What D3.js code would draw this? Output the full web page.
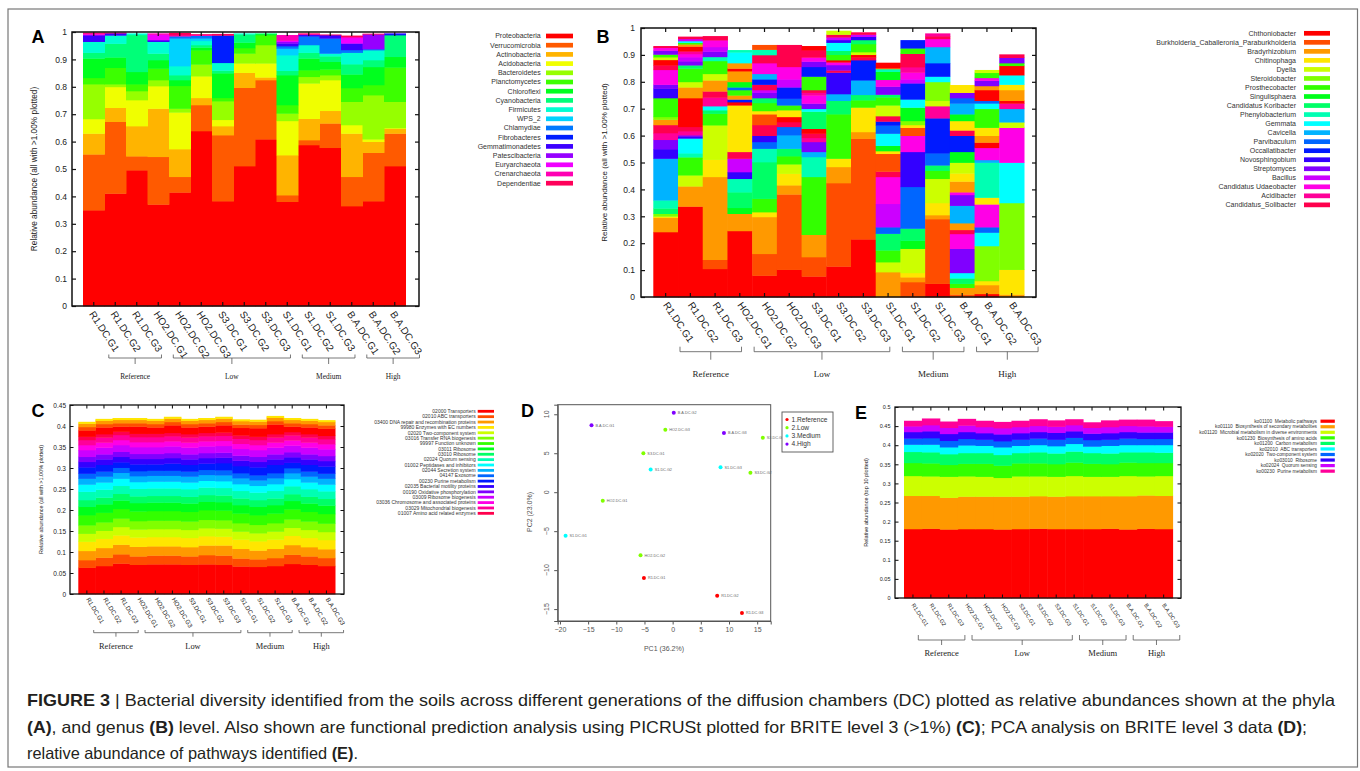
<!DOCTYPE html>
<html>
<head>
<meta charset="utf-8">
<script src="https://cdn.jsdelivr.net/npm/d3@7/dist/d3.min.js"></script>
<style>
  body { margin: 0; background: #fff; }
  svg { display: block; font-family: "Liberation Sans", Arial, sans-serif; }
</style>
</head>
<body>
<svg id="fig" width="1360" height="771"></svg>
<script>
// ---------- data ----------
const samples = ["R1.DC.G1","R1.DC.G2","R1.DC.G3","HO2.DC.G1","HO2.DC.G2","HO2.DC.G3",
  "S3.DC.G1","S3.DC.G2","S3.DC.G3","S1.DC.G1","S1.DC.G2","S1.DC.G3",
  "B.A.DC.G1","B.A.DC.G2","B.A.DC.G3"];

const groups = [
  { name: "Reference", first: 0, last: 2 },
  { name: "Low", first: 3, last: 8 },
  { name: "Medium", first: 9, last: 11 },
  { name: "High", first: 12, last: 14 }
];

const abundanceTicks = [0, 0.1, 0.2, 0.3, 0.4, 0.5, 0.6, 0.7, 0.8, 0.9, 1];
const briteTicks = [0, 0.05, 0.1, 0.15, 0.2, 0.25, 0.3, 0.35, 0.4, 0.45];
const pathwayTicks = [0, 0.05, 0.1, 0.15, 0.2, 0.25, 0.3, 0.35, 0.4, 0.45, 0.5];

// (A) phyla
const phyla = ["Proteobacteria","Verrucomicrobia","Actinobacteria","Acidobacteria","Bacteroidetes",
  "Planctomycetes","Chloroflexi","Cyanobacteria","Firmicutes","WPS_2","Chlamydiae","Fibrobacteres",
  "Gemmatimonadetes","Patescibacteria","Euryarchaeota","Crenarchaeota","Dependentiae"];
const phylaValues = [
  [.35,.411,.496,.371,.415,.639,.383,.511,.609,.381,.588,.578,.365,.383,.511],
  [.204,.262,.051,.174,.057,.095,.241,.286,.216,.024,.018,.089,.107,.177,.119],
  [.076,.051,.11,.176,.101,.026,.033,.055,.01,.146,.078,.046,.158,.04,.018],
  [.053,.076,.095,.082,.134,.079,.023,.034,.051,.125,.129,.112,.031,.009,.002],
  [.127,.01,.033,.022,.014,.043,.068,.036,.067,.027,.024,.018,.085,.161,.096],
  [.023,.06,.025,.042,.083,.052,.012,.02,.036,.031,.024,.021,.05,.037,.125],
  [.071,.038,.045,.031,.021,.01,.09,.02,.004,.109,.043,.028,.05,.066,.039],
  [.021,.05,.135,.024,.018,.009,.01,.03,.002,.016,.021,.02,.037,.025,.079],
  [.04,.03,.005,.043,.033,.015,.028,.003,0,.057,.028,.01,.042,.036,0],
  [0,0,0,0,.101,.009,0,0,0,.024,0,0,0,0,0],
  [0,0,0,0,.008,.01,0,0,0,.009,.032,.055,.01,.004,0],
  [0,0,0,0,0,0,.10,0,0,0,0,0,0,0,.004],
  [.024,.008,0,.006,0,0,0,0,0,.01,.006,.012,.024,0,.002],
  [0,0,0,0,0,0,0,0,0,.006,0,0,0,.054,0],
  [.003,0,0,.02,0,0,0,0,0,.004,0,0,.02,0,0],
  [.004,0,0,.004,.004,.003,0,0,0,.02,.002,0,.004,0,0],
  [.002,.002,0,0,.008,.002,.005,0,0,0,.002,.002,.004,.002,0]
];

// (B) genus: per sample, bottom to top, [genus colour index, abundance]
const genera = ["Chthoniobacter","Burkholderia_Caballeronia_Paraburkholderia","Bradyrhizobium","Chitinophaga",
  "Dyella","Steroidobacter","Prosthecobacter","Singulisphaera","Candidatus Koribacter","Phenylobacterium",
  "Gemmata","Cavicella","Parvibaculum","Occallatibacter","Novosphingobium","Streptomyces","Bacillus",
  "Candidatus Udaeobacter","Acidibacter","Candidatus_Solibacter"];
const genusSegments = [
  [[0,.242],[2,.053],[3,.005],[5,.01],[8,.02],[9,.03],[11,.155],[14,.035],[15,.035],[18,.025],[19,.03],[2,.02],[5,.01],[6,.07],[14,.035],[15,.015],[17,.055],[19,.017],[0,.02],[4,.01],[6,.01],[15,.015],[17,.01],[19,.006]],
  [[0,.337],[2,.075],[4,.041],[6,.067],[9,.015],[10,.055],[14,.006],[15,.006],[18,.015],[19,.016],[0,.107],[2,.04],[4,.02],[6,.05],[8,.012],[15,.015],[16,.015],[17,.012],[18,.01],[0,.018],[2,.008],[6,.006],[10,.006],[16,.008],[19,.008]],
  [[0,.105],[1,.034],[2,.308],[3,.064],[4,.128],[6,.043],[8,.013],[10,.015],[18,.032],[19,.023],[2,.041],[4,.024],[6,.048],[9,.015],[15,.02],[16,.017],[17,.025],[19,.015]],
  [[0,.246],[2,.064],[7,.022],[8,.058],[9,.05],[14,.025],[16,.05],[19,.025],[3,.173],[0,.012],[13,.01],[2,.015],[6,.02],[12,.01],[7,.02],[2,.04],[0,.01],[2,.02],[10,.04],[9,.008]],
  [[0,.08],[1,.081],[2,.137],[3,.018],[6,.05],[8,.136],[9,.05],[12,.025],[14,.023],[19,.04],[1,.04],[3,.012],[6,.03],[8,.018],[15,.02],[16,.01],[19,.02],[13,.02],[11,.02],[17,.04],[19,.03],[9,.02],[1,.017]],
  [[0,.102],[1,.28],[2,.034],[3,.043],[4,.035],[6,.03],[8,.028],[11,.05],[12,.031],[19,.018],[0,.019],[3,.025],[6,.018],[12,.025],[13,.042],[16,.03],[17,.046],[19,.081]],
  [[0,.077],[1,.072],[2,.083],[6,.215],[9,.074],[11,.019],[15,.037],[18,.015],[19,.016],[0,.018],[8,.064],[10,.01],[15,.02],[17,.03],[18,.01],[19,.01],[6,.05],[13,.036],[15,.02],[17,.015],[19,.027],[0,.015]],
  [[0,.114],[1,.31],[2,.06],[3,.031],[6,.165],[8,.05],[11,.025],[14,.08],[19,.008],[15,.02],[17,.01],[0,.008],[6,.02],[8,.015],[10,.03],[14,.01],[16,.01],[19,.01],[4,.014]],
  [[0,.215],[1,.374],[2,.025],[3,.091],[6,.027],[8,.02],[11,.054],[13,.075],[19,.01],[0,.01],[4,.01],[6,.03],[8,.015],[14,.012],[16,.008],[19,.008]],
  [[2,.093],[4,.037],[6,.044],[8,.062],[12,.024],[16,.087],[17,.1],[19,.02],[1,.066],[3,.01],[7,.02],[10,.045],[12,.03],[13,.015],[19,.02],[4,.04],[6,.03],[8,.01],[15,.03],[17,.025],[7,.03],[9,.01],[2,.003],[0,.02]],
  [[1,.056],[2,.018],[3,.016],[4,.09],[7,.03],[8,.045],[12,.155],[14,.13],[17,.06],[1,.03],[3,.01],[5,.015],[7,.05],[10,.03],[13,.06],[16,.015],[17,.025],[18,.02],[19,.05],[6,.02],[13,.03]],
  [[0,.05],[1,.24],[2,.015],[3,.045],[4,.09],[6,.03],[8,.02],[12,.045],[13,.13],[18,.045],[4,.02],[5,.07],[10,.02],[13,.05],[11,.06],[17,.03],[19,.01],[18,.01]],
  [[1,.01],[2,.025],[6,.015],[8,.02],[10,.02],[15,.09],[17,.055],[19,.015],[2,.025],[11,.065],[15,.04],[17,.01],[2,.04],[3,.03],[4,.04],[7,.04],[13,.06],[19,.02],[3,.035],[7,.025],[11,.04],[12,.02],[15,.02],[3,.028]],
  [[0,.012],[2,.033],[3,.015],[5,.13],[10,.05],[12,.02],[17,.085],[3,.025],[9,.13],[11,.01],[17,.045],[0,.02],[2,.025],[3,.03],[6,.07],[10,.02],[12,.01],[0,.04],[2,.015],[15,.02],[17,.01],[6,.019],[4,.01]],
  [[2,.01],[3,.092],[5,.248],[10,.15],[17,.13],[4,.02],[11,.05],[18,.02],[0,.01],[2,.04],[3,.02],[10,.035],[0,.035],[6,.01],[15,.02],[19,.012]]
];

// (C) BRITE level 3 (colours repeat after the 20 listed)
const briteNames = ["02000 Transporters","02010 ABC transporters","03400 DNA repair and recombination proteins",
  "99980 Enzymes with EC numbers","02020 Two-component system","03016 Transfer RNA biogenesis",
  "99997 Function unknown","03011 Ribosome","03010 Ribosome","02024 Quorum sensing",
  "01002 Peptidases and inhibitors","02044 Secretion system","04147 Exosome","00230 Purine metabolism",
  "02035 Bacterial motility proteins","00190 Oxidative phosphorylation","03009 Ribosome biogenesis",
  "03036 Chromosome and associated proteins","03029 Mitochondrial biogenesis","01007 Amino acid related enzymes"];
const briteValues = [
  [.063,.067,.073,.070,.071,.071,.070,.071,.070,.066,.065,.067,.072,.070,.067],
  [.018,.020,.022,.020,.021,.021,.020,.022,.022,.019,.018,.019,.022,.020,.019],
  [.022,.023,.023,.023,.022,.022,.022,.023,.024,.023,.021,.022,.023,.022,.021],
  [.022,.022,.022,.022,.022,.022,.022,.022,.021,.022,.022,.022,.022,.022,.022],
  [.019,.019,.020,.019,.019,.019,.019,.019,.019,.019,.019,.019,.019,.019,.019],
  [.020,.020,.020,.020,.020,.020,.020,.020,.020,.020,.020,.020,.020,.020,.020],
  [.024,.023,.023,.023,.023,.023,.023,.023,.023,.023,.023,.023,.024,.023,.023],
  [.020,.020,.020,.020,.020,.020,.020,.020,.020,.020,.020,.020,.020,.020,.020],
  [.016,.016,.016,.016,.016,.016,.016,.016,.016,.016,.016,.016,.016,.016,.016],
  [.020,.019,.019,.018,.018,.018,.018,.018,.018,.018,.018,.018,.019,.018,.018],
  [.017,.017,.017,.016,.016,.016,.016,.016,.016,.016,.016,.016,.017,.016,.016],
  [.014,.014,.014,.014,.014,.014,.014,.014,.014,.014,.013,.014,.014,.014,.014],
  [.012,.012,.012,.012,.012,.012,.012,.012,.012,.012,.012,.012,.012,.012,.012],
  [.015,.016,.013,.016,.015,.017,.016,.015,.017,.017,.019,.020,.013,.016,.017],
  [.013,.013,.013,.013,.013,.013,.013,.013,.013,.013,.013,.013,.013,.013,.013],
  [.012,.012,.012,.012,.012,.012,.012,.012,.012,.012,.012,.012,.012,.012,.012],
  [.016,.016,.016,.016,.016,.016,.016,.016,.016,.016,.016,.016,.016,.016,.016],
  [.012,.012,.012,.012,.012,.012,.012,.012,.012,.012,.012,.012,.012,.012,.012],
  [.012,.012,.012,.012,.012,.012,.012,.012,.012,.012,.012,.012,.012,.012,.012],
  [.008,.008,.008,.008,.008,.008,.008,.008,.008,.008,.008,.008,.008,.008,.008],
  [.015,.016,.012,.017,.015,.018,.016,.015,.017,.018,.020,.023,.013,.016,.017],
  [.008,.008,.008,.008,.008,.008,.008,.008,.008,.008,.008,.008,.008,.008,.008],
  [.008,.008,.008,.008,.008,.008,.008,.008,.008,.008,.008,.008,.008,.008,.008],
  [.004,.004,.004,.004,.004,.004,.004,.004,.004,.004,.004,.004,.004,.004,.004]
];

// (D) PCA
const pcaGroups = ["1.Reference","2.Low","3.Medium","4.High"];
const pcaGroupOf = [0,0,0,1,1,1,1,1,1,2,2,2,3,3,3];
const pc1 = [-5.1, 7.9, 12.3, -12.4, -5.7, -1.3, -5.2, 13.8, 16.0, -19.0, -3.9, 8.5, -14.4, 0.2, 9.1];
const pc2 = [-11.0, -13.3, -15.5, -1.1, -8.1, 8.0, 5.0, 2.5, 7.0, -5.6, 2.9, 3.2, 8.6, 10.2, 7.6];
const pcaTicksX = [-20, -15, -10, -5, 0, 5, 10, 15];
const pcaTicksY = [-15, -10, -5, 0, 5, 10];

// (E) pathways
const pathways = ["ko01100  Metabolic pathways","ko01110  Biosynthesis of secondary metabolites",
  "ko01120  Microbial metabolism in diverse environments","ko01230  Biosynthesis of amino acids",
  "ko01200  Carbon metabolism","ko02010  ABC transporters","ko02020  Two-component system",
  "ko03010  Ribosome","ko02024  Quorum sensing","ko00230  Purine metabolism"];
const pathwayValues = [
  [.181,.182,.180,.181,.181,.180,.181,.182,.181,.181,.181,.182,.180,.182,.181],
  [.087,.086,.083,.085,.085,.086,.085,.085,.085,.086,.086,.085,.087,.087,.087],
  [.052,.051,.055,.053,.052,.049,.053,.052,.052,.053,.051,.051,.053,.050,.052],
  [.034,.034,.031,.033,.034,.032,.034,.034,.033,.035,.034,.033,.035,.035,.034],
  [.029,.029,.028,.028,.028,.028,.027,.029,.028,.029,.028,.028,.027,.028,.027],
  [.019,.020,.018,.020,.019,.020,.019,.019,.019,.020,.017,.020,.019,.019,.020],
  [.016,.017,.017,.017,.016,.016,.016,.017,.017,.016,.017,.016,.017,.016,.016],
  [.017,.018,.018,.018,.017,.018,.017,.017,.018,.017,.017,.017,.017,.017,.017],
  [.015,.016,.016,.017,.016,.016,.016,.016,.016,.016,.015,.016,.016,.016,.015],
  [.014,.017,.016,.017,.016,.016,.016,.017,.016,.015,.014,.017,.016,.017,.014]
];

// ---------- drawing ----------
const svg = d3.select("#fig");
const hue = n => i => d3.hsl(360 * (i % n) / n, 1, 0.5).formatHex();
const fmtTick = v => String(+v.toFixed(2));
const serif = "'Liberation Serif', 'Times New Roman', serif";

// figure frame
svg.append("rect").attr("x", 8).attr("y", 9).attr("width", 1349.5).attr("height", 758)
  .attr("fill", "none").attr("stroke", "#777").attr("stroke-width", 1.2);

function stackDraw(values, color) {
  return (g, x, y) => {
    const rows = samples.map((s, j) => Object.fromEntries(values.map((v, i) => [i, v[j]])));
    const series = d3.stack().keys(d3.range(values.length))(rows);
    g.selectAll("g").data(series).join("g").attr("fill", s => color(s.key))
      .selectAll("rect").data(s => s).join("rect")
      .attr("x", (d, j) => x(samples[j]))
      .attr("width", x.bandwidth() + 0.5)
      .attr("y", d => y(d[1]))
      .attr("height", d => { const h = y(d[0]) - y(d[1]); return h > 0.01 ? h + 0.4 : 0; });
  };
}

function segmentDraw(segments, color) {
  return (g, x, y) => {
    segments.forEach((segs, j) => {
      const tops = d3.cumsum(segs, d => d[1]);
      g.append("g").selectAll("rect")
        .data(segs.map((d, k) => ({ c: d[0], y0: tops[k] - d[1], y1: tops[k] })))
        .join("rect")
        .attr("x", x(samples[j]))
        .attr("width", x.bandwidth() + 0.5)
        .attr("y", d => y(d.y1))
        .attr("height", d => y(d.y0) - y(d.y1) + 0.4)
        .attr("fill", d => color(d.c));
    });
  };
}

function barPanel(p) {
  const g = svg.append("g");
  const x = d3.scaleBand().domain(samples).range([p.l + p.padL, p.r - p.padR]);
  const y = d3.scaleLinear().domain([0, p.yMax]).range([p.b, p.t]);
  const bw = x.bandwidth();
  p.draw(g.append("g"), x, y);

  g.append("rect").attr("x", p.l).attr("y", p.t).attr("width", p.r - p.l).attr("height", p.b - p.t)
    .attr("fill", "none").attr("stroke", "#111").attr("stroke-width", p.sw);

  const strip = s => s.select(".domain").remove();
  g.append("g").attr("transform", `translate(${p.l},0)`)
    .call(d3.axisLeft(y).tickValues(p.ticks).tickFormat(fmtTick).tickSize(-p.tk).tickPadding(p.tp))
    .call(strip)
    .call(s => s.selectAll("text").attr("font-size", p.tf).attr("font-family", "Liberation Sans, Arial").attr("fill", "#222"));
  g.append("g").attr("transform", `translate(${p.r},0)`)
    .call(d3.axisRight(y).tickValues(p.ticks).tickFormat("").tickSize(-p.tk)).call(strip);
  g.append("g").attr("transform", `translate(0,${p.t})`)
    .call(d3.axisTop(x).tickFormat("").tickSize(-p.tk)).call(strip);
  g.append("g").attr("transform", `translate(0,${p.b})`)
    .call(d3.axisBottom(x).tickFormat("").tickSize(-p.tk)).call(strip);
  g.selectAll(".tick line").attr("stroke", "#111").attr("stroke-width", p.sw * 0.8);

  // y title
  g.append("text")
    .attr("transform", `translate(${p.ylx},${(p.t + p.b) / 2}) rotate(-90)`)
    .attr("text-anchor", "middle").attr("dy", "0.35em")
    .attr("font-size", p.ylf).attr("fill", "#222").text(p.yl);

  // sample labels
  g.append("g").selectAll("text").data(samples).join("text")
    .attr("transform", d => `translate(${x(d) + bw / 2 + p.lx},${p.b + p.ly}) rotate(${p.ang})`)
    .attr("dy", "0.35em").attr("font-size", p.lf).attr("fill", "#222").text(d => d);

  // group brackets
  const gb = g.append("g").attr("fill", "none").attr("stroke", "#555").attr("stroke-width", 0.8);
  groups.forEach(gr => {
    const x1 = x(samples[gr.first]) + bw * (0.5 + p.bs);
    const x2 = x(samples[gr.last]) + bw * (0.5 + p.be);
    const xc = (x1 + x2) / 2;
    gb.append("path").attr("d",
      `M${x1},${p.by - p.bu}V${p.by}H${x2}V${p.by - p.bu}M${xc},${p.by}V${p.by + p.bd}`);
    g.append("text").attr("x", xc).attr("y", p.gy).attr("dy", "0.35em")
      .attr("text-anchor", "middle").attr("font-family", serif)
      .attr("font-size", p.gf).attr("fill", "#222").text(gr.name);
  });

  // panel letter
  g.append("text").attr("x", p.letX).attr("y", p.letY)
    .attr("font-size", 18).attr("font-weight", "bold").attr("fill", "#000").text(p.letter);
}

function legend(names, color, c) {
  const g = svg.append("g");
  const row = g.selectAll("g").data(names).join("g")
    .attr("transform", (d, i) => `translate(0,${c.y0 + i * c.dy})`);
  row.append("text").attr("x", c.xr).attr("dy", "0.35em").attr("text-anchor", "end")
    .attr("font-size", c.fs).attr("fill", "#333").style("white-space", "pre").text(d => d);
  row.append("rect").attr("x", c.sx).attr("y", -c.sh / 2).attr("width", c.sw).attr("height", c.sh)
    .attr("fill", (d, i) => color(i));
}

// (A)
const colA = hue(phyla.length);
barPanel({
  l: 72, r: 419, t: 32, b: 306, padL: 11, padR: 13.5, yMax: 1, ticks: abundanceTicks,
  tk: 4, tp: 5, tf: 8.5, sw: 1.5,
  yl: "Relative abundance (all with >1.00% plotted)", ylx: 34, ylf: 8.3,
  lx: -2, ly: 6, ang: 57, lf: 10,
  by: 358, bu: 3.5, bd: 6, bs: 0.7, be: 1.15, gy: 376, gf: 7.4,
  letter: "A", letX: 31.5, letY: 42.7,
  draw: stackDraw(phylaValues, colA)
});
legend(phyla, colA, { xr: 540.7, sx: 546, sw: 27, sh: 4.7, y0: 36, dy: 9.2, fs: 7 });

// (B)
const colB = hue(genera.length);
barPanel({
  l: 641, r: 1036, t: 28, b: 297, padL: 12.3, padR: 12, yMax: 1, ticks: abundanceTicks,
  tk: 4, tp: 6, tf: 8.5, sw: 1.5,
  yl: "Relative abundance (all with >1.00% plotted)", ylx: 604, ylf: 8,
  lx: 0, ly: 6, ang: 56, lf: 10,
  by: 351.7, bu: 5, bd: 8, bs: 0.58, be: 1.07, gy: 374, gf: 9,
  letter: "B", letX: 596.5, letY: 42.7,
  draw: segmentDraw(genusSegments, colB)
});
legend(genera, colB, { xr: 1296, sx: 1304, sw: 26, sh: 4.7, y0: 33.3, dy: 9.03, fs: 7 });

// (C)
const colC = hue(briteNames.length);
barPanel({
  l: 70, r: 344, t: 405, b: 594, padL: 8.3, padR: 9, yMax: 0.45, ticks: briteTicks,
  tk: 3.5, tp: 4, tf: 6.5, sw: 1.3,
  yl: "Relative abundance (all with >1.00% plotted)", ylx: 40.7, ylf: 5.5,
  lx: 1, ly: 4, ang: 59, lf: 6.3,
  by: 632.7, bu: 2.7, bd: 4, bs: 0.4, be: 1.0, gy: 645.7, gf: 8.4,
  letter: "C", letX: 31.5, letY: 417.3,
  draw: stackDraw(briteValues, colC)
});
legend(briteNames, colC, { xr: 475.7, sx: 477.7, sw: 16.3, sh: 2.8, y0: 411.3, dy: 5.37, fs: 5 });

// (E)
const colE = hue(pathways.length);
barPanel({
  l: 895, r: 1181, t: 407, b: 598, padL: 9, padR: 8.4, yMax: 0.5, ticks: pathwayTicks,
  tk: 3.5, tp: 4.5, tf: 5.5, sw: 1.3,
  yl: "Relative abundance (top 10 plotted)", ylx: 866, ylf: 5.6,
  lx: 0, ly: 6, ang: 57, lf: 5.6,
  by: 640, bu: 5, bd: 5, bs: 0.3, be: 0.9, gy: 653, gf: 8.5,
  letter: "E", letX: 855, letY: 418.7,
  draw: stackDraw(pathwayValues, colE)
});
legend(pathways, colE, { xr: 1317, sx: 1320.5, sw: 14.3, sh: 3.2, y0: 421.2, dy: 5.55, fs: 4.8 });

// (D) PCA
(function () {
  const g = svg.append("g");
  const colD = hue(pcaGroups.length);
  const pad = ([a, b]) => [a - (b - a) * 0.04, b + (b - a) * 0.04];
  const x = d3.scaleLinear().domain(pad(d3.extent(pc1))).range([557.7, 770.7]);
  const y = d3.scaleLinear().domain(pad(d3.extent(pc2))).range([621, 404.7]);
  const grey = "#555";

  g.append("rect").attr("x", 557.7).attr("y", 404.7).attr("width", 213).attr("height", 216.3)
    .attr("fill", "none").attr("stroke", grey).attr("stroke-width", 1);

  g.append("g").attr("transform", "translate(0,621)")
    .call(d3.axisBottom(x).tickValues(pcaTicksX).tickSize(3.5).tickPadding(3).tickFormat(d3.format("d")))
    .call(s => s.select(".domain").attr("stroke", grey))
    .call(s => s.selectAll("line").attr("stroke", grey))
    .call(s => s.selectAll("text").attr("font-size", 7).attr("fill", grey));

  g.append("g").attr("transform", "translate(557.7,0)")
    .call(d3.axisLeft(y).tickValues(pcaTicksY).tickSize(3.5).tickFormat(""))
    .call(s => s.select(".domain").attr("stroke", grey))
    .call(s => s.selectAll("line").attr("stroke", grey));
  g.append("g").selectAll("text").data(pcaTicksY).join("text")
    .attr("transform", d => `translate(547,${y(d)}) rotate(-90)`)
    .attr("text-anchor", "middle").attr("dy", "0.35em")
    .attr("font-size", 7).attr("fill", grey).text(d => d3.format("d")(d));

  g.append("text").attr("x", 664).attr("y", 649).attr("text-anchor", "middle").attr("dy", "0.35em")
    .attr("font-size", 7).attr("fill", grey).text("PC1 (36.2%)");
  g.append("text").attr("transform", "translate(530,512) rotate(-90)")
    .attr("text-anchor", "middle").attr("dy", "0.35em")
    .attr("font-size", 7).attr("fill", grey).text("PC2 (23.0%)");

  const pts = g.append("g").selectAll("g").data(samples).join("g")
    .attr("transform", (d, i) => `translate(${x(pc1[i])},${y(pc2[i])})`);
  pts.append("circle").attr("r", 2).attr("fill", (d, i) => colD(pcaGroupOf[i]));
  pts.append("text").attr("x", 4).attr("dy", "0.35em").attr("font-size", 3.8)
    .attr("fill", "#666").text(d => d);

  const lg = g.append("g");
  lg.append("rect").attr("x", 782).attr("y", 412).attr("width", 51).attr("height", 40)
    .attr("fill", "#fff").attr("stroke", grey).attr("stroke-width", 0.9);
  const it = lg.selectAll("g").data(pcaGroups).join("g")
    .attr("transform", (d, i) => `translate(787,${419.5 + i * 8.2})`);
  it.append("circle").attr("r", 1.6).attr("fill", (d, i) => colD(i));
  it.append("text").attr("x", 4.5).attr("dy", "0.35em").attr("font-size", 6.6).attr("fill", "#333").text(d => d);

  g.append("text").attr("x", 521).attr("y", 417.3).attr("font-size", 18)
    .attr("font-weight", "bold").text("D");
})();

// caption
const captionLines = [
  { y: 700, len: 1308, parts: [["FIGURE 3", 1], [" | ", 0], ["Bacterial diversity identified from the soils across different generations of the diffusion chambers (DC) plotted as relative abundances shown at the phyla", 0]] },
  { y: 727, len: 1280, parts: [["(A)", 1], [", and genus ", 0], ["(B)", 1], [" level. Also shown are functional prediction analysis using PICRUSt plotted for BRITE level 3 (>1%) ", 0], ["(C)", 1], ["; PCA analysis on BRITE level 3 data ", 0], ["(D)", 1], [";", 0]] },
  { y: 753, len: 331, parts: [["relative abundance of pathways identified ", 0], ["(E)", 1], [".", 0]] }
];
captionLines.forEach(line => {
  const t = svg.append("text").attr("x", 27).attr("y", line.y).attr("dy", "0.35em")
    .attr("font-size", 16.5).attr("fill", "#231f20")
    .attr("textLength", line.len).attr("lengthAdjust", "spacingAndGlyphs")
    .style("white-space", "pre");
  line.parts.forEach(([s, b]) => t.append("tspan").attr("font-weight", b ? "bold" : "normal").text(s));
});
</script>
</body>
</html>
